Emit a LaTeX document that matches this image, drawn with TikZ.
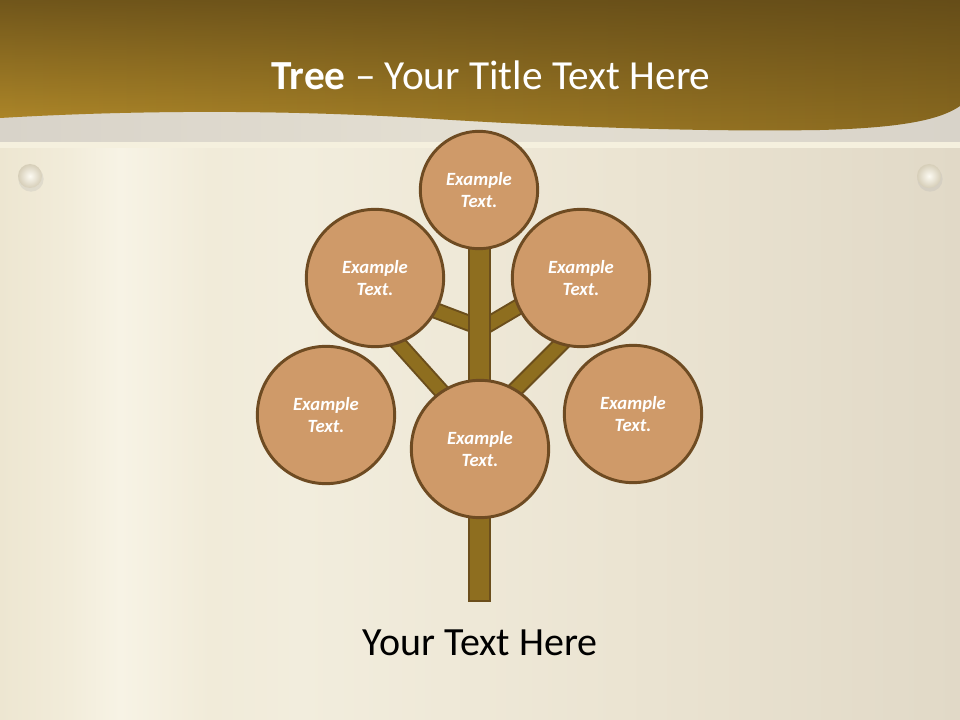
\documentclass[tikz,border=0pt]{standalone}
\usepackage{fontspec}
\setmainfont{Carlito}
\usetikzlibrary{shadings,fadings}
\definecolor{leaffill}{HTML}{CF9A69}
\definecolor{leafline}{HTML}{6E4B22}
\definecolor{trunkfill}{HTML}{8E6E1F}
\definecolor{trunkline}{HTML}{6B4E1C}
\definecolor{bandA}{HTML}{B48C2A}
\definecolor{bandM}{HTML}{8A6A20}
\definecolor{bandB}{HTML}{5A4416}
\definecolor{bg0}{HTML}{EDE6D1}
\definecolor{bg1}{HTML}{F2ECDA}
\definecolor{bg2}{HTML}{F7F3E5}
\definecolor{bg3}{HTML}{F1EBD9}
\definecolor{bg4}{HTML}{F2EDDD}
\definecolor{bg5}{HTML}{EBE4D2}
\definecolor{bg6}{HTML}{E1D9C7}
\definecolor{greyband}{HTML}{D8D3C9}
\definecolor{greybandL}{HTML}{E4DFD2}
\definecolor{stripe}{HTML}{F5F0DE}
\definecolor{boltout}{HTML}{D6CEB8}
\definecolor{boltin}{HTML}{FCFAF2}
\tikzset{
  leaf/.style={circle, draw=leafline, line width=2.2pt, fill=leaffill, text=white,
    font=\bfseries\itshape\fontsize{14}{17}\selectfont, align=center, inner sep=0pt},
  small/.style={leaf, minimum size=88pt},
  big/.style={leaf, minimum size=103pt},
  branchout/.style={line width=12.5pt, color=trunkline},
  branchin/.style={line width=9.5pt, color=trunkfill},
}
\begin{document}
\begin{tikzpicture}[x=0.75pt,y=-0.75pt]
\useasboundingbox (0,0) rectangle (960,720);
% background
\shade[left color=bg0, right color=bg1] (0,0) rectangle (70,720);
\shade[left color=bg1, right color=bg2] (70,0) rectangle (120,720);
\shade[left color=bg2, right color=bg3] (120,0) rectangle (210,720);
\shade[left color=bg3, right color=bg4] (210,0) rectangle (300,720);
\shade[left color=bg4, right color=bg5] (300,0) rectangle (620,720);
\shade[left color=bg5, right color=bg6] (620,0) rectangle (960,720);
% grey band and stripe
\shade[left color=greyband, right color=greyband, middle color=greybandL] (0,100) rectangle (960,142);
\fill[stripe] (0,142) rectangle (960,148);
% top band
\begin{scope}
\clip (0,0) -- (960,0) -- (960,106)
  .. controls (940,120) and (900,128) .. (820,130)
  .. controls (700,132) and (560,127) .. (420,118)
  .. controls (250,108) and (100,112) .. (0,118) -- cycle;
\shade[left color=bandA, right color=bandM] (0,0) rectangle (960,135);
\fill[bandB, path fading=south, fill opacity=0.75] (0,0) rectangle (960,135);
\end{scope}
% bolts
\fill[black!30, opacity=0.25] (31,179) circle [radius=9.5pt];
\shade[inner color=boltin, outer color=boltout] (30,176) circle [radius=9pt];
\fill[black!30, opacity=0.25] (930,179) circle [radius=9.5pt];
\shade[inner color=boltin, outer color=boltout] (929,176) circle [radius=9pt];
% title
\node[text=white, font=\fontsize{31}{37}\selectfont] (title) at (491,75) {\textbf{Tree} – Your Title Text Here};
% centers
\coordinate (cT) at (479,190);
\coordinate (cUL) at (375,278);
\coordinate (cUR) at (581,278);
\coordinate (cLL) at (326,415);
\coordinate (cLR) at (633,414);
\coordinate (cB) at (480,449);
% branch ends
\coordinate (jUL) at (479,327);
\coordinate (eUL) at (400,297);
\coordinate (jUR) at (479,330);
\coordinate (eUR) at (540,294);
\coordinate (jLL) at (460,412);
\coordinate (eLL) at (380,323);
\coordinate (jLR) at (500,405);
\coordinate (eLR) at (575,330);
\coordinate (tTop) at (469,240);
\coordinate (tBot) at (490,601);
% branches
\foreach \a/\b in {jUL/eUL, jUR/eUR, jLL/eLL, jLR/eLR}{
  \draw[branchout] (\a) -- (\b);
  \draw[branchin] (\a) -- (\b);
}
% trunk
\draw[fill=trunkfill, draw=trunkline, line width=1.6pt] (tTop) rectangle (tBot);
% leaves
\node[small] (top) at (cT) {Example\\Text.};
\node[big] (ul) at (cUL) {Example\\Text.};
\node[big] (ur) at (cUR) {Example\\Text.};
\node[big] (ll) at (cLL) {Example\\Text.};
\node[big] (lr) at (cLR) {Example\\Text.};
\node[big] (bc) at (cB) {Example\\Text.};
% body text
\node[text=black, font=\fontsize{30}{36}\selectfont] (body) at (480,643) {Your Text Here};
\end{tikzpicture}
\end{document}
